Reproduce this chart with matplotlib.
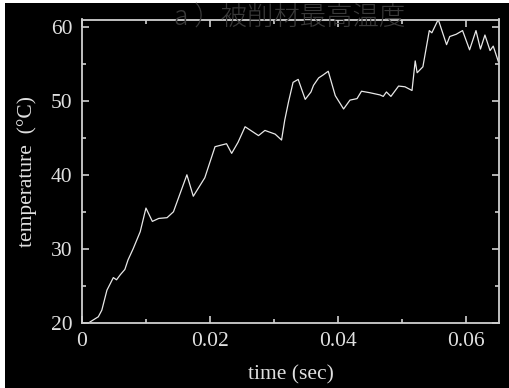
import matplotlib
matplotlib.use("Agg")
import matplotlib.pyplot as plt
from matplotlib.patches import Rectangle
from matplotlib.ticker import MultipleLocator

time_s = [0.00125, 0.00255, 0.0031, 0.0039, 0.0049, 0.0054, 0.0060, 0.0067, 0.0072,
          0.0080, 0.0091, 0.0100, 0.0110, 0.0120, 0.0133, 0.0143, 0.0164, 0.0174,
          0.0192, 0.0208, 0.0226, 0.0234, 0.0244, 0.0255, 0.0276, 0.0286, 0.0302,
          0.0312, 0.0317, 0.0323, 0.0330, 0.0338, 0.0349, 0.0358, 0.0362, 0.0370,
          0.0377, 0.0385, 0.0396, 0.0409, 0.0419, 0.0430, 0.0437, 0.0450, 0.0466,
          0.0471, 0.0476, 0.0483, 0.0495, 0.0505, 0.0516, 0.0521, 0.0524, 0.0533,
          0.0543, 0.0547, 0.0557, 0.0570, 0.0575, 0.0585, 0.0595, 0.0606, 0.0616,
          0.0623, 0.0630, 0.0638, 0.0643, 0.0651]
temperature = [20.1, 20.8, 21.7, 24.4, 26.1, 25.8, 26.5, 27.2, 28.5,
               30.0, 32.3, 35.5, 33.7, 34.1, 34.2, 35.0, 40.0, 37.1,
               39.6, 43.8, 44.2, 42.9, 44.4, 46.5, 45.3, 46.0, 45.5,
               44.7, 47.4, 49.9, 52.5, 52.9, 50.2, 51.2, 52.1, 53.1,
               53.5, 54.0, 50.7, 48.9, 50.1, 50.3, 51.3, 51.1, 50.8,
               50.6, 51.2, 50.6, 52.0, 51.9, 51.4, 55.4, 53.8, 54.6,
               59.5, 59.2, 61.0, 57.6, 58.7, 59.0, 59.5, 56.9, 59.5,
               57.0, 58.9, 56.8, 57.4, 55.3]
x_ticks = [0, 0.02, 0.04, 0.06]
x_tick_labels = ["0", "0.02", "0.04", "0.06"]
y_ticks = [20, 30, 40, 50, 60]
title = "a ）被削材最高温度"

W, H = 510, 388
fig = plt.figure(figsize=(W / 100, H / 100), dpi=100, facecolor="black")
ax = fig.add_axes([82 / W, 1 - 322.7 / H, (499 - 82) / W, (322.7 - 19.5) / H])
ax.set_facecolor("black")

ax.plot(time_s, temperature, color="#e8e8e8", lw=0.9)
ax.set_xlim(0, 0.0652)
ax.set_ylim(20, 61)

serif = "Liberation Serif"
fg = "#e0e0e0"
ax.set_xticks(x_ticks)
ax.set_xticklabels(x_tick_labels)
ax.set_yticks(y_ticks)
ax.xaxis.set_minor_locator(MultipleLocator(0.01))
ax.yaxis.set_minor_locator(MultipleLocator(5))
ax.tick_params(which="both", direction="in", top=True, right=True, colors="#d0d0d0",
               labelcolor=fg, width=1.2)
ax.tick_params(which="major", length=5)
ax.tick_params(which="minor", length=3)
ax.tick_params(axis="x", pad=7)
ax.tick_params(axis="y", pad=7)
for lab in ax.get_xticklabels() + ax.get_yticklabels():
    lab.set_fontfamily(serif)
    lab.set_fontsize(15.5)
for s in ax.spines.values():
    s.set_color("#d0d0d0")
    s.set_linewidth(1.3)

ax.set_xlabel("time (sec)", fontfamily=serif, fontsize=15.5, color=fg, labelpad=10)
ax.set_ylabel("temperature  (°C)", fontfamily=serif, fontsize=15.5, color=fg, labelpad=10)

fig.text(290 / W, 1 - 17 / H, title, ha="center", va="center", fontsize=19,
         fontweight="light", color="#3a3a3a",
         family=["Noto Sans CJK JP", "DejaVu Sans"], zorder=10)

fig.patches.append(Rectangle((0, 1 - 3 / H), 1, 3 / H, transform=fig.transFigure,
                             facecolor="white", edgecolor="none"))
fig.patches.append(Rectangle((0, 0), 5 / W, 1, transform=fig.transFigure,
                             facecolor="white", edgecolor="none"))

fig.savefig("out.png", dpi=100, facecolor="black")
